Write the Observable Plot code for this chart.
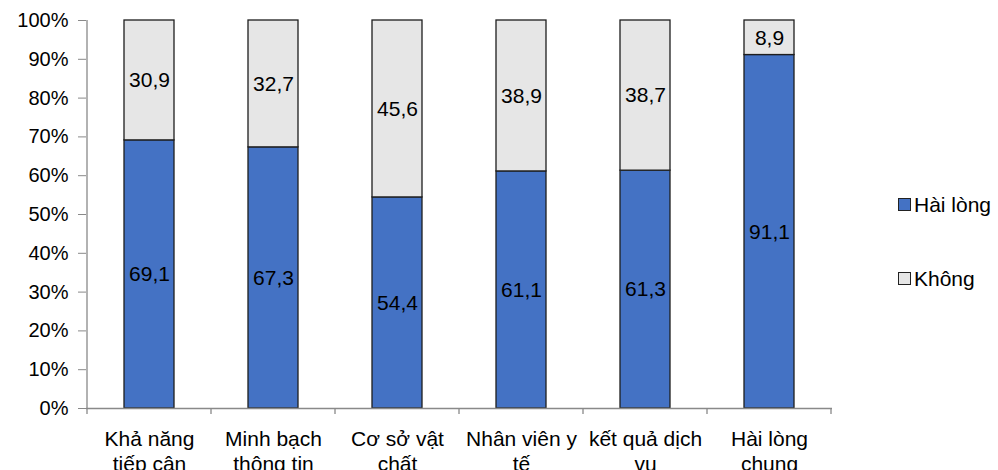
<!DOCTYPE html>
<html>
<head>
<meta charset="utf-8">
<script src="https://cdn.jsdelivr.net/npm/d3@7"></script>
<script src="https://cdn.jsdelivr.net/npm/@observablehq/plot@0.6"></script>
<style>
  html, body { margin: 0; padding: 0; background: #fff; }
  body { width: 998px; height: 470px; overflow: hidden; position: relative; font-family: Arial, "Liberation Sans", sans-serif; }
  #chart { position: absolute; left: 0; top: 0; }
  .legend { position: absolute; left: 898px; font-size: 21px; color: #000; display: flex; align-items: center; line-height: 1; }
  .legend .sw { width: 11px; height: 11px; border: 1px solid #222; margin-right: 3px; }
</style>
</head>
<body>
<div id="chart"></div>
<div id="legend"></div>
<script>
const categories = ["Khả năng tiếp cận", "Minh bạch thông tin", "Cơ sở vật chất", "Nhân viên y tế", "kết quả dịch vụ", "Hài lòng chung"];
const tickLabels = ["Khả năng\ntiếp cận", "Minh bạch\nthông tin", "Cơ sở vật\nchất", "Nhân viên y\ntế", "kết quả dịch\nvụ", "Hài lòng\nchung"];
const seriesNames = ["Hài lòng", "Không"];
const haiLong = [69.1, 67.3, 54.4, 61.1, 61.3, 91.1];
const khong = [30.9, 32.7, 45.6, 38.9, 38.7, 8.9];
const colors = ["#4472C4", "#E6E6E6"];
const yTicks = [0, 10, 20, 30, 40, 50, 60, 70, 80, 90, 100];

const data = [];
categories.forEach((c, i) => {
  data.push({cat: c, series: seriesNames[0], value: haiLong[i]});
  data.push({cat: c, series: seriesNames[1], value: khong[i]});
});
const fmt = v => d3.format(".1f")(v).replace(".", ",");
const labelOf = new Map(categories.map((c, i) => [c, tickLabels[i]]));

const plot = Plot.plot({
  width: 998,
  height: 470,
  marginLeft: 86,
  marginRight: 166,
  marginTop: 20,
  marginBottom: 62,
  style: {fontFamily: 'Arial, "Liberation Sans", sans-serif', color: "#000", background: "#fff"},
  x: {domain: categories, paddingInner: 0.6, paddingOuter: 0.3, axis: null},
  y: {domain: [0, 100], axis: null},
  color: {domain: seriesNames, range: colors},
  marks: [
    Plot.axisY({ticks: yTicks, tickFormat: d => d + "%", tickSize: 8, tickPadding: 10, fontSize: 20, stroke: "#898989", label: null}),
    Plot.barY(data, {x: "cat", y: "value", fill: "series", stroke: "#1e1e1e", strokeWidth: 1.3}),
    Plot.text(data, Plot.stackY({x: "cat", y: "value", text: d => fmt(d.value), fontSize: 21, fill: "#000"})),
    Plot.ruleY([0], {stroke: "#898989", strokeWidth: 1.3}),
    Plot.text(categories, {x: d => d, text: d => labelOf.get(d), frameAnchor: "bottom", lineAnchor: "top", dy: 20, lineHeight: 1.19, fontSize: 21, fill: "#000"})
  ]
});
document.getElementById("chart").appendChild(plot);

// axis line and category separator ticks from the plot's own scales
const xs = plot.scale("x"), ys = plot.scale("y");
const svg = d3.select(plot);
const y0 = ys.apply(0), y100 = ys.apply(100);
const gap = (xs.step - xs.bandwidth) / 2;
const bounds = categories.map(c => xs.apply(c) - gap);
bounds.push(xs.apply(categories[categories.length - 1]) + xs.bandwidth + gap);
const g = svg.append("g").attr("stroke", "#898989").attr("stroke-width", 1.3);
g.append("line").attr("x1", bounds[0]).attr("x2", bounds[0]).attr("y1", y100).attr("y2", y0);
bounds.forEach(b => g.append("line").attr("x1", b).attr("x2", b).attr("y1", y0).attr("y2", y0 + 6));

// legend
const legend = document.getElementById("legend");
const legendTops = [194, 268];
seriesNames.forEach((s, i) => {
  const item = document.createElement("div");
  item.className = "legend";
  item.style.top = legendTops[i] + "px";
  item.innerHTML = `<span class="sw" style="background:${colors[i]}"></span><span>${s}</span>`;
  legend.appendChild(item);
});
</script>
</body>
</html>
